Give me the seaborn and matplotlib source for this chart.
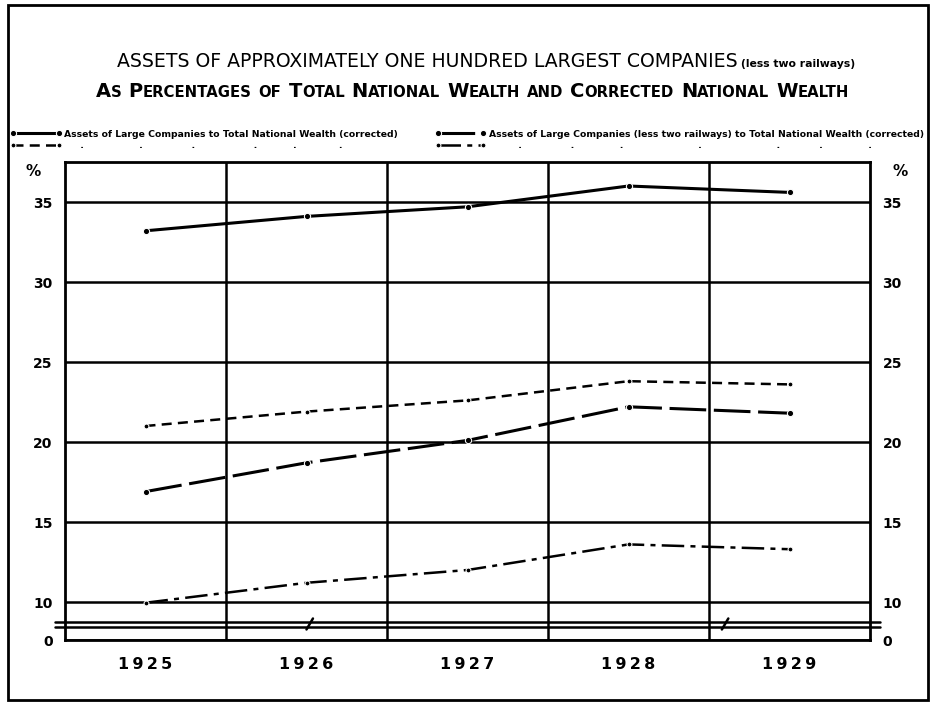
import numpy as np
import pandas as pd
import matplotlib
matplotlib.use('Agg')
import matplotlib.pyplot as plt
import seaborn as sns
from matplotlib.patches import Rectangle
from matplotlib.transforms import IdentityTransform

# dados
years = [1925, 1926, 1927, 1928, 1929]
corrected_all = [33.2, 34.1, 34.7, 36.0, 35.6]
total_all = [21.0, 21.9, 22.6, 23.8, 23.6]
corrected_less_rr = [16.9, 18.7, 20.1, 22.2, 21.8]
total_less_rr = [9.8, 11.2, 12.0, 13.6, 13.3]

yticks = [0, 10, 15, 20, 25, 30, 35]
year_labels = ['1\u20099\u20092\u20095', '1\u20099\u20092\u20096', '1\u20099\u20092\u20097',
               '1\u20099\u20092\u20098', '1\u20099\u20092\u20099']

label_corr_all = 'Assets of Large Companies to Total National Wealth (corrected)'
label_corr_less = 'Assets of Large Companies (less two railways) to Total National Wealth (corrected)'
ditto_left = ' ' * 5 + '.' + ' ' * 17 + '.' + ' ' * 15 + '.' + ' ' * 18 + '.' + ' ' * 11 + '.' + ' ' * 13 + '.'
ditto_right = ' ' * 9 + '.' + ' ' * 15 + '.' + ' ' * 14 + '.' + ' ' * 23 + '.' + ' ' * 23 + '.' + ' ' * 12 + '.' + ' ' * 14 + '.'

title1 = 'ASSETS OF APPROXIMATELY ONE HUNDRED LARGEST COMPANIES'
title1_small = '(less two railways)'
title2_words = ['As', 'Percentages', 'of', 'Total', 'National', 'Wealth', 'and', 'Corrected', 'National', 'Wealth']

sns.set_style('white')
plt.rcParams['font.family'] = ['DejaVu Sans']
plt.rcParams['text.color'] = 'black'
plt.rcParams['xtick.color'] = 'black'
plt.rcParams['ytick.color'] = 'black'

fig = plt.figure(figsize=(9.32, 7.03), dpi=100)
ax = fig.add_axes([65 / 932, 63 / 703, 805 / 932, 478 / 703])


# eixo quebrado entre 0 e 10
def fwd(y):
    y = np.asarray(y, dtype=float)
    return np.where(y >= 10, y, 7.625 + y * 0.2375)


def inv(y):
    y = np.asarray(y, dtype=float)
    return np.where(y >= 7.625 + 10 * 0.2375, y, (y - 7.625) / 0.2375)


ax.set_yscale('function', functions=(fwd, inv))

df = pd.DataFrame({'Year': years, 'ca': corrected_all, 'ta': total_all,
                   'cl': corrected_less_rr, 'tl': total_less_rr})

sns.lineplot(data=df, x='Year', y='ca', ax=ax, color='black', lw=2.2,
             marker='o', markersize=4.5, label=label_corr_all)
sns.lineplot(data=df, x='Year', y='ta', ax=ax, color='black', lw=1.8,
             linestyle=(0, (4, 2.5)), marker='o', markersize=3.5, label=ditto_left)
sns.lineplot(data=df, x='Year', y='cl', ax=ax, color='black', lw=2.2,
             linestyle=(0, (12, 2.5)), marker='o', markersize=4.5, label=label_corr_less)
sns.lineplot(data=df, x='Year', y='tl', ax=ax, color='black', lw=1.8,
             linestyle=(0, (9, 2.5, 2, 2.5)), marker='o', markersize=3.5, label=ditto_right)

ax.set_ylim(0, 37.5)
ax.set_xlim(1924.5, 1929.5)
ax.set_yticks(yticks)
ax.set_yticklabels([str(t) for t in yticks], fontweight='bold', fontsize=10)
ax.set_xticks(years)
ax.set_xticklabels(year_labels, fontweight='bold', fontsize=11.5)
ax.set_xticks([1925.5, 1926.5, 1927.5, 1928.5], minor=True)
ax.tick_params(axis='y', length=0, pad=9, labelright=True)
ax.tick_params(axis='x', which='both', length=0, pad=12)
ax.set_xlabel('')
ax.set_ylabel('')
ax.grid(False)
ax.yaxis.grid(True, color='black', lw=1.8)
ax.xaxis.grid(True, which='minor', color='black', lw=1.8)
for s in ax.spines.values():
    s.set_color('black')
    s.set_linewidth(2)

# linhas da quebra do eixo
for f in [0.0377, 0.0272]:
    ax.plot([-0.012, 1.012], [f, f], transform=ax.transAxes, clip_on=False,
            color='black', lw=1.8)
for xs in [0.304, 0.82]:
    ax.plot([xs - 0.004, xs + 0.004], [0.022, 0.045], transform=ax.transAxes,
            clip_on=False, color='black', lw=1.8)

# legendas
h, l = ax.get_legend_handles_labels()
ax.get_legend().remove()
leg_kw = dict(frameon=False, ncol=1, numpoints=2, handlelength=5.5, handletextpad=0.3,
              labelspacing=0.25, borderaxespad=0, borderpad=0,
              prop={'size': 6.7, 'weight': 'bold'})
leg1 = ax.legend([h[0], h[1]], [l[0], l[1]], loc='lower left',
                 bbox_to_anchor=(-0.068, 1.025), **leg_kw)
ax.add_artist(leg1)
ax.legend([h[2], h[3]], [l[2], l[3]], loc='lower left',
          bbox_to_anchor=((435 - 65) / 805, 1.025), **leg_kw)

# marcas de %
fig.text(33 / 932, 1 - 172 / 703, '%', fontsize=11, fontweight='bold', ha='center', va='center')
fig.text(900 / 932, 1 - 172 / 703, '%', fontsize=11, fontweight='bold', ha='center', va='center')

# moldura externa
fig.add_artist(Rectangle((8 / 932, 3 / 703), 920 / 932, 695 / 703, fill=False,
                         lw=2, color='black', transform=fig.transFigure))

# títulos montados em pedaços
renderer = fig.canvas.get_renderer()


def place_pieces(pieces, y_base, center_x):
    texts = []
    x = 0
    for txt, size, weight, gap in pieces:
        t = fig.text(x, y_base, txt, fontsize=size, fontweight=weight, ha='left',
                     va='baseline', transform=IdentityTransform())
        w = t.get_window_extent(renderer).width
        texts.append((t, x))
        x += w + gap
    total = x
    start = center_x - total / 2
    for t, x0 in texts:
        t.set_x(start + x0)


place_pieces([(title1, 13.6, 'normal', 3), (title1_small, 7.8, 'bold', 0)], 703 - 67, 486)

pieces2 = []
for word in title2_words:
    if word in ('of', 'and'):
        pieces2.append((word.upper(), 10.7, 'bold', 7))
    else:
        pieces2.append((word[0].upper(), 14, 'bold', 0))
        pieces2.append((word[1:].upper(), 10.7, 'bold', 7))
place_pieces(pieces2, 703 - 97, 476)

fig.savefig('out.png', dpi=100)
